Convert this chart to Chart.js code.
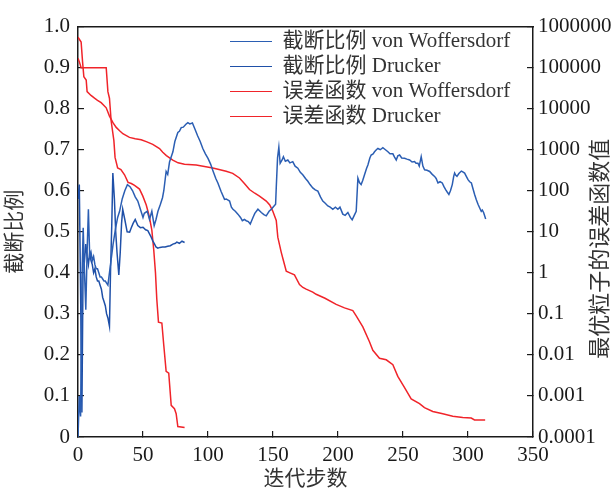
<!DOCTYPE html>
<html>
<head>
<meta charset="utf-8">
<script src="https://cdn.jsdelivr.net/npm/chart.js@4.4.0/dist/chart.umd.min.js"></script>
<style>
  html, body { margin: 0; padding: 0; background: #fff; }
</style>
</head>
<body>
<canvas id="chart" width="615" height="492"></canvas>
<script>
// Iteration steps on the x axis, truncation ratio on the left, error function (log) on the right
const xTickValues = [0, 50, 100, 150, 200, 250, 300, 350];
const leftTickValues = [0, 0.1, 0.2, 0.3, 0.4, 0.5, 0.6, 0.7, 0.8, 0.9, 1.0];
const leftTickLabels = ['0', '0.1', '0.2', '0.3', '0.4', '0.5', '0.6', '0.7', '0.8', '0.9', '1.0'];
const rightTickValues = [0.0001, 0.001, 0.01, 0.1, 1, 10, 100, 1000, 10000, 100000, 1000000];
const rightTickLabels = ['0.0001', '0.001', '0.01', '0.1', '1', '10', '100', '1000', '10000', '100000', '1000000'];

const seriesNames = ['截断比例 von Woffersdorf', '截断比例 Drucker', '误差函数 von Woffersdorf', '误差函数 Drucker'];
const xTitle = '迭代步数';
const yTitle = '截断比例';
const y2Title = '最优粒子的误差函数值';

// [step, truncation ratio]
const vwRatio = [
  [0, 0], [1, 0.10], [2, 0.05], [3, 0.38], [4, 0.51], [5, 0.40], [6, 0.31], [7, 0.45], [8, 0.555], [9, 0.44],
  [10, 0.45], [11, 0.43], [12, 0.44], [13, 0.42], [14, 0.41], [15, 0.41], [16, 0.40], [17, 0.39], [18, 0.39], [19, 0.385],
  [20, 0.38], [21, 0.38], [22, 0.375], [23, 0.37], [25, 0.42], [27, 0.47], [29, 0.51], [30.5, 0.535], [32, 0.55], [34, 0.58],
  [36, 0.60], [38, 0.615], [40, 0.61], [42, 0.60], [44, 0.585], [46, 0.575], [48, 0.555], [50, 0.535], [51, 0.545], [53.3, 0.55],
  [55, 0.53], [56.8, 0.55], [58.6, 0.515], [60, 0.53], [61.5, 0.55], [63.4, 0.567], [65, 0.583], [66, 0.60], [67.8, 0.647], [69, 0.64],
  [70.4, 0.67], [73, 0.695], [74.5, 0.72], [76.8, 0.742], [78, 0.745], [79.4, 0.754], [81, 0.755], [83, 0.762], [84.5, 0.766], [86, 0.763],
  [88, 0.765], [90, 0.75], [92, 0.734], [94, 0.72], [96, 0.703], [98, 0.69], [100, 0.679], [102, 0.665], [104, 0.647], [106, 0.63],
  [107.6, 0.619], [110, 0.599], [112.7, 0.579], [114, 0.58], [116.6, 0.575], [118, 0.56], [119.2, 0.555], [121, 0.55], [123, 0.543], [125, 0.535],
  [126.4, 0.527], [128, 0.53], [129.4, 0.527], [131, 0.525], [132.5, 0.519], [134.6, 0.535], [136, 0.545], [138.4, 0.555], [141, 0.547], [143, 0.542],
  [144.8, 0.539], [147, 0.55], [148.7, 0.555], [150, 0.56], [152, 0.567], [152.5, 0.607], [153.5, 0.68], [154.5, 0.706], [155.5, 0.667], [157, 0.675],
  [158, 0.683], [159.5, 0.672], [161.4, 0.675], [163, 0.668], [165.2, 0.671], [167, 0.66], [169.1, 0.655], [171, 0.645], [172.9, 0.639], [175, 0.63],
  [176.8, 0.623], [178.5, 0.615], [180.6, 0.607], [182.5, 0.602], [184.5, 0.599], [186.5, 0.585], [188.3, 0.575], [190, 0.57], [192.2, 0.563], [194, 0.56],
  [196, 0.555], [198, 0.56], [199.9, 0.555], [201.5, 0.56], [203.7, 0.543], [205.5, 0.54], [207.6, 0.547], [209.5, 0.535], [210.9, 0.529], [212.5, 0.54],
  [214, 0.55], [215.3, 0.631], [216.5, 0.62], [217.8, 0.615], [219, 0.625], [220.4, 0.639], [222, 0.655], [223, 0.663], [224.5, 0.68], [225.5, 0.687],
  [227, 0.69], [228.1, 0.695], [229.5, 0.70], [230.7, 0.703], [232.5, 0.70], [234.5, 0.705], [236.5, 0.70], [238.4, 0.695], [240, 0.69], [242.2, 0.69],
  [243.5, 0.682], [244.8, 0.675], [246, 0.685], [247.4, 0.687], [249, 0.68], [251.2, 0.679], [253, 0.677], [255.1, 0.675], [257, 0.67], [258.9, 0.671],
  [260, 0.667], [261.5, 0.667], [262.5, 0.66], [264, 0.683], [265.3, 0.66], [266.6, 0.651], [268.5, 0.65], [270.5, 0.647], [272.5, 0.64], [274.3, 0.635],
  [275.5, 0.63], [276.9, 0.619], [278.5, 0.622], [280.2, 0.619], [281.5, 0.61], [282.8, 0.603], [284, 0.597], [285.3, 0.591], [286.5, 0.60], [287.9, 0.615],
  [289, 0.635], [289.7, 0.643], [290.5, 0.638], [291.5, 0.635], [293, 0.642], [294.9, 0.648], [296, 0.646], [297.4, 0.643], [298.7, 0.635], [300, 0.627],
  [301.3, 0.622], [302.6, 0.619], [304, 0.603], [305.1, 0.591], [306.4, 0.578], [307.7, 0.567], [309, 0.558], [310.2, 0.55], [311, 0.553], [312, 0.547],
  [313.6, 0.531]
];

const druckerRatio = [
  [0, 0.58], [1, 0.615], [2, 0.35], [3, 0.06], [4, 0.45], [5, 0.43], [6, 0.47], [7, 0.44], [8, 0.42], [9, 0.45],
  [10, 0.43], [11, 0.42], [12, 0.40], [13, 0.41], [14, 0.39], [15, 0.38], [16, 0.38], [17, 0.37], [18, 0.36], [19, 0.34],
  [20, 0.33], [21, 0.32], [22, 0.30], [23, 0.29], [24.2, 0.27], [25, 0.40], [26, 0.52], [26.8, 0.643], [28, 0.58], [29, 0.50],
  [30, 0.45], [31.4, 0.395], [32.5, 0.45], [33.5, 0.52], [34.4, 0.555], [36, 0.53], [37.8, 0.50], [39.7, 0.499], [41, 0.51], [42.3, 0.52],
  [44, 0.53], [46, 0.515], [48, 0.51], [50, 0.511], [52, 0.505], [53.7, 0.503], [55, 0.495], [56.3, 0.487], [57.5, 0.478], [58.9, 0.47],
  [60, 0.463], [61.4, 0.46], [63, 0.462], [65, 0.463], [67, 0.463], [69, 0.465], [71, 0.466], [73, 0.47], [75, 0.472], [76, 0.475],
  [78, 0.472], [80, 0.477], [82, 0.474]
];

// [step, error function value]
const vwError = [
  [0, 550000], [2.4, 420000], [3.5, 140000], [4.5, 60000], [6.3, 50000], [7, 26000], [10, 21000], [12.7, 18000], [15, 16000], [17.8, 14000],
  [21.7, 10500], [24.2, 6600], [27, 4500], [29.4, 3500], [32, 2900], [34.5, 2450], [39.6, 2000], [44, 1860], [48.6, 1740], [53, 1550],
  [57.5, 1350], [62.7, 1070], [65.2, 870], [68, 720], [72.9, 560], [77, 480], [81.9, 440], [90.9, 425], [103.7, 360], [114, 300],
  [119, 265], [124.2, 205], [128, 150], [131.9, 107], [136, 87], [139.6, 74], [144.8, 56], [147.5, 45], [149.8, 32], [152.5, 19],
  [153.7, 7.4], [156.3, 3.2], [158, 2.0], [160.2, 1.1], [163, 1.0], [166.5, 0.89], [170.4, 0.52], [173, 0.44], [175.5, 0.40], [180.6, 0.34],
  [183.2, 0.30], [190, 0.24], [198.6, 0.17], [205, 0.14], [211.4, 0.12], [214, 0.089], [219.1, 0.048], [224.2, 0.021], [226.8, 0.013], [231.9, 0.0083],
  [237.1, 0.0076], [242.2, 0.0058], [246, 0.0030], [251.2, 0.0016], [256.3, 0.00085], [262.7, 0.00065], [266.5, 0.00052], [272.9, 0.00042], [280.6, 0.00037], [288.3, 0.00032],
  [296, 0.00030], [302.5, 0.00029], [305, 0.00026], [313.2, 0.00026]
];

const druckerError = [
  [0, 170000], [1, 140000], [2.4, 100000], [21.7, 100000], [23, 26000], [24.2, 18000], [25.5, 5000], [27.6, 1660], [28.5, 650], [30.5, 360],
  [33, 330], [35.8, 245], [38.5, 160], [41, 150], [43.5, 135], [47.3, 110], [49.8, 75], [52.5, 45], [54, 30], [55, 22],
  [56.8, 11], [58.3, 3.5], [59.6, 1.0], [60.6, 0.23], [61.9, 0.063], [64.5, 0.06], [66, 0.017], [67.8, 0.004], [69.8, 0.0036], [71.7, 0.00059],
  [74.2, 0.00049], [75.5, 0.00037], [76.8, 0.00018], [82, 0.00017]
];

const FONT = "'Liberation Serif', 'Times New Roman', 'Noto Sans CJK SC', serif";
const INK = '#1a1a1a';

function toPoints(pairs) {
  return pairs.map(p => ({ x: p[0], y: p[1] }));
}

// puts the legend at the top right inside the plot box
const legendPlace = {
  id: 'legendPlace',
  afterLayout(chart) {
    const lg = chart.legend;
    lg.left = 226;
    lg.top = 27;
    lg.right = lg.left + lg.width;
    lg.bottom = lg.top + lg.height;
  }
};

// right axis title reads bottom to top like the left one
const rightTitle = {
  id: 'rightTitle',
  afterDraw(chart) {
    const ctx = chart.ctx;
    const area = chart.chartArea;
    ctx.save();
    ctx.translate(601, (area.top + area.bottom) / 2 + 17);
    ctx.rotate(-Math.PI / 2);
    ctx.font = '22px ' + FONT;
    ctx.fillStyle = '#333';
    ctx.textAlign = 'center';
    ctx.textBaseline = 'middle';
    ctx.fillText(y2Title, 0, 0);
    ctx.restore();
  }
};

const blueVW = '#2b5eb3';
const blueDr = '#1f50a8';
const red = '#f0242a';

new Chart(document.getElementById('chart'), {
  type: 'line',
  data: {
    datasets: [
      { label: seriesNames[0], data: toPoints(vwRatio), yAxisID: 'y', borderColor: blueVW, backgroundColor: blueVW },
      { label: seriesNames[1], data: toPoints(druckerRatio), yAxisID: 'y', borderColor: blueDr, backgroundColor: blueDr },
      { label: seriesNames[2], data: toPoints(vwError), yAxisID: 'y2', borderColor: red, backgroundColor: red },
      { label: seriesNames[3], data: toPoints(druckerError), yAxisID: 'y2', borderColor: red, backgroundColor: red }
    ]
  },
  options: {
    responsive: false,
    animation: false,
    devicePixelRatio: 1,
    layout: { padding: 0 },
    elements: {
      point: { radius: 0 },
      line: { borderWidth: 1.5, tension: 0, fill: false }
    },
    plugins: {
      tooltip: { enabled: false },
      legend: {
        position: 'chartArea',
        align: 'start',
        labels: {
          usePointStyle: true,
          pointStyle: 'line',
          pointStyleWidth: 42,
          padding: 4,
          color: '#333',
          font: { family: FONT, size: 21 }
        }
      }
    },
    scales: {
      x: {
        type: 'linear',
        position: 'bottom',
        min: 0,
        max: 350,
        afterBuildTicks: s => { s.ticks = xTickValues.map(v => ({ value: v })); },
        afterFit: s => { s.height = 55; },
        grid: { drawOnChartArea: false, tickLength: -6, color: INK, lineWidth: 1.2 },
        border: { color: INK, width: 1.5 },
        ticks: { color: INK, font: { family: FONT, size: 21 }, padding: 12, maxRotation: 0, autoSkip: false },
        title: { display: true, text: xTitle, color: '#333', font: { family: FONT, size: 21 }, padding: { top: 0, bottom: 0 } }
      },
      xTop: {
        type: 'linear',
        position: 'top',
        min: 0,
        max: 350,
        afterFit: s => { s.height = 19; },
        ticks: { display: false },
        grid: { drawOnChartArea: false, drawTicks: false },
        border: { color: INK, width: 1.5 }
      },
      y: {
        type: 'linear',
        position: 'left',
        min: 0,
        max: 1,
        afterBuildTicks: s => { s.ticks = leftTickValues.map(v => ({ value: v })); },
        afterFit: s => { s.width = 78; },
        grid: { drawOnChartArea: false, tickLength: -6, color: INK, lineWidth: 1.2 },
        border: { color: INK, width: 1.5 },
        ticks: {
          color: INK,
          font: { family: FONT, size: 21 },
          padding: 14,
          autoSkip: false,
          callback: (v, i) => leftTickLabels[i]
        },
        title: { display: true, text: yTitle, color: '#333', font: { family: FONT, size: 21 }, padding: { top: 3, bottom: 0 } }
      },
      y2: {
        type: 'logarithmic',
        position: 'right',
        min: 0.0001,
        max: 1000000,
        afterBuildTicks: s => { s.ticks = rightTickValues.map(v => ({ value: v })); },
        afterFit: s => { s.width = 82; },
        grid: { drawOnChartArea: false, tickLength: -6, color: INK, lineWidth: 1.2 },
        border: { color: INK, width: 1.5 },
        ticks: {
          color: INK,
          font: { family: FONT, size: 21 },
          padding: 11,
          autoSkip: false,
          callback: (v, i) => rightTickLabels[i]
        }
      }
    }
  },
  plugins: [legendPlace, rightTitle]
});
</script>
</body>
</html>
